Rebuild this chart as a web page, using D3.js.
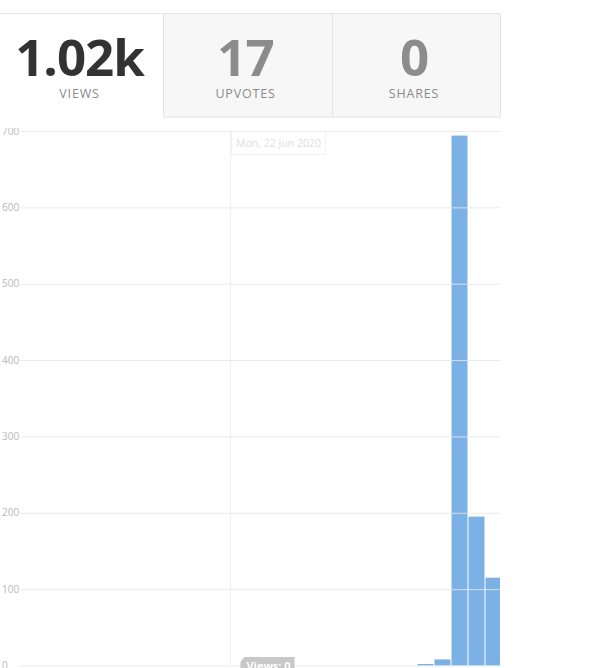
<!DOCTYPE html>
<html>
<head>
<meta charset="utf-8">
<script src="https://cdn.jsdelivr.net/npm/d3@7"></script>
<style>
  html, body { margin: 0; padding: 0; background: #fff; }
  svg { display: block; font-family: "Open Sans", "DejaVu Sans", sans-serif; }
</style>
</head>
<body>
<svg id="chart" width="600" height="668"></svg>
<script>
// ---- data ----
const statValues = ["1.02k", "17", "0"];
const statLabels = ["VIEWS", "UPVOTES", "SHARES"];
const days = [
  "2020-06-09","2020-06-10","2020-06-11","2020-06-12","2020-06-13","2020-06-14",
  "2020-06-15","2020-06-16","2020-06-17","2020-06-18","2020-06-19","2020-06-20",
  "2020-06-21","2020-06-22","2020-06-23","2020-06-24","2020-06-25","2020-06-26",
  "2020-06-27","2020-06-28","2020-06-29","2020-06-30","2020-07-01","2020-07-02",
  "2020-07-03","2020-07-04","2020-07-05","2020-07-06","2020-07-07"
];
const views = [
  0,0,0,0,0,0,
  0,0,0,0,0,0,
  0,0,0,0,0,0,
  0,0,0,0,0,0,
  2,8,694,195,115
];
const yTicks = [0, 100, 200, 300, 400, 500, 600, 700];
const hoverDay = "2020-06-22";
const hoverLabel = "Mon, 22 Jun 2020";
const hoverValue = 0;

// ---- drawing ----
const svg = d3.select("#chart");
const parse = d3.utcParse("%Y-%m-%d");
const dayDates = days.map(parse);
const lastEnd = d3.utcDay.offset(dayDates[dayDates.length - 1], 1);

// header buttons (only bottom edges visible)
const btns = [[325, 421], [429, 500]];
svg.selectAll("rect.btn").data(btns).join("rect")
  .attr("x", d => d[0] + 0.5).attr("y", -20.5)
  .attr("width", d => d[1] - d[0]).attr("height", 20)
  .attr("rx", 3).attr("fill", "#fff").attr("stroke", "#dcdcdc");

// stats boxes
const boxX = d3.scaleBand().domain(statLabels).range([-5, 500]).paddingInner(0);
const boxes = [[0, 163], [163, 332], [332, 500]];
svg.append("line").attr("x1", 0).attr("x2", 500).attr("y1", 13.5).attr("y2", 13.5)
  .attr("stroke", "#e6e6e6");
boxes.forEach((b, i) => {
  if (i > 0) {
    svg.append("rect").attr("x", b[0] + 0.5).attr("y", 13.5)
      .attr("width", b[1] - b[0]).attr("height", 103.5)
      .attr("fill", "#f7f7f7").attr("stroke", "#e4e4e4");
  }
  const cx = (b[0] + b[1]) / 2 - 2;
  svg.append("text").attr("x", cx).attr("y", 76)
    .attr("text-anchor", "middle").attr("font-size", 51).attr("font-weight", 700)
    .attr("letter-spacing", -1)
    .attr("fill", i === 0 ? "#333" : "#8c8c8c").text(statValues[i]);
  svg.append("text").attr("x", cx).attr("y", 97.5)
    .attr("text-anchor", "middle").attr("font-size", 12.5)
    .attr("letter-spacing", 0.8)
    .attr("fill", "#8a8a8a").text(statLabels[i]);
});

// chart
const x = d3.scaleUtc().domain([dayDates[0], lastEnd]).range([9, 502]);
const y = d3.scaleLinear().domain([0, 700]).range([665.5, 131]);

svg.append("defs").append("clipPath").attr("id", "plotClip")
  .append("rect").attr("x", 0).attr("y", 128).attr("width", 500).attr("height", 560);
svg.append("defs").append("clipPath").attr("id", "barClip")
  .append("rect").attr("x", 20).attr("y", 128).attr("width", 480).attr("height", 560);

const g = svg.append("g").attr("clip-path", "url(#plotClip)");

// crosshair
const hx = Math.round(x(parse(hoverDay))) + 0.5;
g.append("line").attr("x1", hx).attr("x2", hx).attr("y1", y(700)).attr("y2", y(0))
  .attr("stroke", "#f0f0f0");

// bars
g.append("g").attr("clip-path", "url(#barClip)")
  .selectAll("rect").data(dayDates.map((d, i) => ({ d, v: views[i] })).filter(e => e.v > 0))
  .join("rect")
  .attr("x", e => x(e.d) + 0.5)
  .attr("width", e => x(d3.utcDay.offset(e.d, 1)) - x(e.d) - 1)
  .attr("y", e => y(e.v))
  .attr("height", e => y(0) - y(e.v))
  .attr("fill", "#7cb1e6");

// gridlines + labels via axis
const axis = d3.axisRight(y).tickValues(yTicks).tickSize(480).tickFormat(d3.format("d"));
const ag = g.append("g").attr("transform", "translate(20,0)").call(axis);
ag.select(".domain").remove();
ag.selectAll(".tick line").attr("stroke", "#e6e6e6").attr("stroke-opacity", 0.85);
ag.selectAll(".tick text")
  .attr("x", -18).attr("dy", "0.32em").attr("text-anchor", "start")
  .attr("font-size", 10).attr("fill", "#b8b8b8")
  .attr("font-family", "'Open Sans', sans-serif");

// faded tooltip at top
const tipG = g.append("g");
const tipText = tipG.append("text").attr("x", hx + 48).attr("y", 147)
  .attr("text-anchor", "middle").attr("font-size", 10.5).attr("fill", "#dedede")
  .text(hoverLabel);
const tb = tipText.node().getBBox();
tipG.insert("rect", "text").attr("x", tb.x - 4.5).attr("y", 131.5)
  .attr("width", tb.width + 9).attr("height", 23).attr("fill", "#fff")
  .attr("stroke", "#f1f1f1");

// bottom crosshair label
const lg = svg.append("g");
const lblText = lg.append("text").attr("x", hx + 38).attr("y", 670)
  .attr("text-anchor", "middle").attr("font-size", 11).attr("font-weight", 700)
  .attr("fill", "#fff").text("Views: " + hoverValue);
const lb = lblText.node().getBBox();
lg.insert("path", "text")
  .attr("d", `M${lb.x - 6},${662} L${lb.x - 2},657 L${lb.x + lb.width + 4},657 L${lb.x + lb.width + 4},668 L${lb.x - 6},668 Z`)
  .attr("fill", "#c8c8c8");
</script>
</body>
</html>
